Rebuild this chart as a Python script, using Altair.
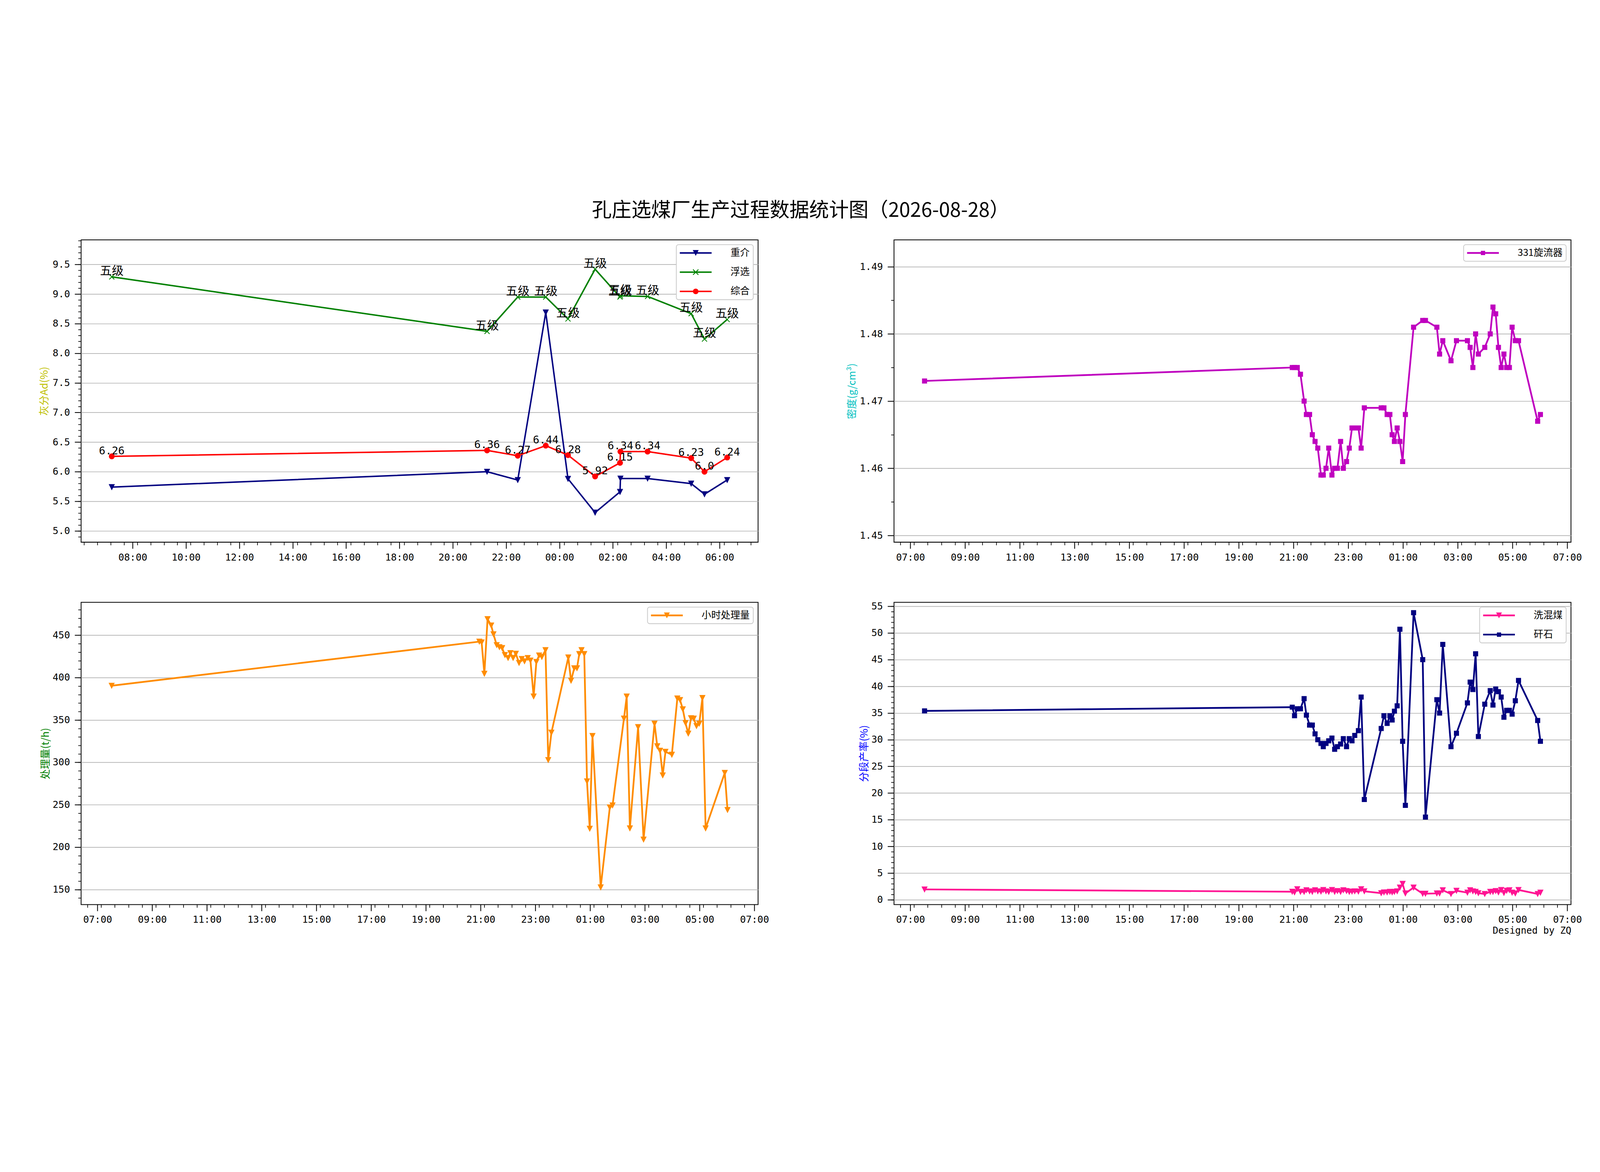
import altair as alt
import pandas as pd
import math
from datetime import datetime, timedelta

CJK = "Noto Sans CJK SC"
MONO = "DejaVu Sans Mono"

# ------------------------------------------------------------------ data
ash_times = ["07:13", "21:17", "22:26", "23:29", "00:19", "01:20",
             "02:16", "02:17", "03:18", "04:56", "05:26", "06:17"]
ash_zhongjie = [5.74, 6.00, 5.86, 8.69, 5.88, 5.31, 5.66, 5.885, 5.885, 5.80, 5.62, 5.86]
ash_fuxuan = [9.29, 8.37, 8.95, 8.95, 8.58, 9.42, 8.95, 8.97, 8.96, 8.67, 8.24, 8.57]
ash_zonghe = [6.26, 6.36, 6.27, 6.44, 6.28, 5.92, 6.15, 6.34, 6.34, 6.23, 6.0, 6.24]
fuxuan_grade = ["五级", "五级", "五级", "五级", "五级", "五级",
                "五级", "五级", "五级", "五级", "五级", "五级"]
zonghe_text = ["6.26", "6.36", "6.27", "6.44", "6.28", "5.92",
               "6.15", "6.34", "6.34", "6.23", "6.0", "6.24"]

shift_times = [
    "07:31", "20:57", "21:02", "21:08", "21:15", "21:23", "21:28", "21:35", "21:41", "21:47",
    "21:53", "22:00", "22:05", "22:11", "22:17", "22:24", "22:30", "22:36", "22:43", "22:49",
    "22:56", "23:02", "23:08", "23:14", "23:22", "23:28", "23:35", "00:12", "00:18", "00:25",
    "00:31", "00:36", "00:41", "00:47", "00:53", "00:59", "01:05", "01:23", "01:43", "01:49",
    "02:14", "02:20", "02:27", "02:45", "02:57", "03:21", "03:27", "03:33", "03:39", "03:45",
    "03:59", "04:11", "04:17", "04:23", "04:29", "04:35", "04:41", "04:47", "04:53", "04:59",
    "05:06", "05:13", "05:55", "06:01"]

density_331 = [
    1.473, 1.475, 1.475, 1.475, 1.474, 1.470, 1.468, 1.468, 1.465, 1.464,
    1.463, 1.459, 1.459, 1.460, 1.463, 1.459, 1.460, 1.460, 1.464, 1.460,
    1.461, 1.463, 1.466, 1.466, 1.466, 1.463, 1.469, 1.469, 1.469, 1.468,
    1.468, 1.465, 1.464, 1.466, 1.464, 1.461, 1.468, 1.481, 1.482, 1.482,
    1.481, 1.477, 1.479, 1.476, 1.479, 1.479, 1.478, 1.475, 1.480, 1.477,
    1.478, 1.480, 1.484, 1.483, 1.478, 1.475, 1.477, 1.475, 1.475, 1.481,
    1.479, 1.479, 1.467, 1.468]

hourly_throughput = [
    390.5, 442.5, 441.6, 404.6, 469.1, 461.6, 451.2, 438.4, 436.0, 434.9,
    426.7, 423.2, 429.0, 423.2, 428.3, 417.4, 422.0, 419.3, 423.2, 420.2,
    377.8, 418.6, 426.2, 424.4, 432.5, 302.8, 335.2, 423.9, 396.4, 411.1,
    411.1, 427.9, 432.5, 427.9, 277.7, 221.8, 331.2, 152.6, 246.9, 249.3,
    351.7, 377.8, 222.2, 341.7, 209.0, 345.7, 319.1, 313.8, 284.7, 312.6,
    309.1, 375.5, 373.6, 362.7, 346.4, 334.0, 352.2, 351.7, 342.9, 345.7,
    376.0, 222.2, 287.7, 243.9]

xihunmei = [
    1.95, 1.52, 1.4, 2.0, 1.5, 1.5, 1.8, 1.6, 1.5, 1.8,
    1.6, 1.55, 1.85, 1.6, 1.5, 1.85, 1.5, 1.65, 1.5, 1.8,
    1.65, 1.5, 1.55, 1.6, 1.55, 2.0, 1.6, 1.25, 1.4, 1.4,
    1.5, 1.4, 1.5, 1.6, 2.3, 3.0, 1.2, 2.3, 1.15, 1.15,
    1.2, 1.2, 1.8, 1.1, 1.7, 1.35, 1.8, 1.6, 1.5, 1.25,
    1.1, 1.5, 1.5, 1.65, 1.4, 1.85, 1.3, 1.7, 1.8, 1.35,
    1.2, 1.85, 1.1, 1.35]

ganshi = [
    35.4, 36.1, 34.5, 35.8, 35.8, 37.7, 34.6, 32.75, 32.75, 31.1,
    30.0, 29.3, 28.7, 29.3, 29.8, 30.3, 28.2, 28.7, 29.2, 30.2,
    28.7, 30.2, 29.8, 30.8, 31.7, 38.0, 18.8, 32.1, 34.5, 33.05,
    34.5, 33.7, 35.35, 36.35, 50.7, 29.7, 17.7, 53.8, 45.0, 15.5,
    37.5, 35.0, 47.85, 28.7, 31.2, 36.9, 40.8, 39.4, 46.1, 30.6,
    36.65, 39.2, 36.5, 39.5, 39.0, 38.0, 34.2, 35.5, 35.5, 34.8,
    37.3, 41.1, 33.6, 29.7]

TITLE = "孔庄选煤厂生产过程数据统计图（2026-08-28）"


# ------------------------------------------------------------------ helpers
def stamp(hm):
    h, m = (int(p) for p in hm.split(":"))
    day = 27 if h >= 7 else 28
    return f"2026-08-{day:02d}T{h:02d}:{m:02d}:00"


def frame(times, values, name, labels=None):
    d = pd.DataFrame({"t": [stamp(s) for s in times], "v": values})
    d["series"] = name
    if labels is not None:
        d["label"] = labels
    return d


def dt(d):
    return alt.DateTime(year=d.year, month=d.month, date=d.day,
                        hours=d.hour, minutes=d.minute, seconds=d.second)


def tick_list(start, stop, minutes):
    out, cur = [], start
    while cur <= stop:
        out.append(dt(cur))
        cur += timedelta(minutes=minutes)
    return out


def frange(start, stop, step, nd):
    out, k = [], 0
    while True:
        v = round(start + k * step, nd)
        if v > stop + 1e-9:
            break
        out.append(v)
        k += 1
    return out


TRI = "M-1,-1L1,-1L0,1Z"
XMK = "M-1,-1L1,1M-1,1L1,-1"

LU = 18.0
LHALF = 59.5 / LU


def f4(v):
    return f"{v:.4f}"


def leg_line(half_px):
    t = half_px / LU
    return (f"M{f4(-LHALF)},{f4(-t)}L{f4(LHALF)},{f4(-t)}"
            f"L{f4(LHALF)},{f4(t)}L{f4(-LHALF)},{f4(t)}Z")


def leg_tri(px):
    a = px / LU
    return f"M{f4(-a)},{f4(-a)}L{f4(a)},{f4(-a)}L0,{f4(a)}Z"


def leg_sq(px):
    a = px / LU
    return f"M{f4(-a)},{f4(-a)}L{f4(a)},{f4(-a)}L{f4(a)},{f4(a)}L{f4(-a)},{f4(a)}Z"


def leg_circ(px, n=24):
    r = px / LU
    pts = [(r * math.cos(2 * math.pi * k / n), r * math.sin(2 * math.pi * k / n)) for k in range(n)]
    return "M" + "L".join(f"{f4(x)},{f4(y)}" for x, y in pts) + "Z"


def leg_x(px, half_w):
    a = px / LU
    e = half_w / LU / math.sqrt(2)
    r1 = f"M{f4(-a+e)},{f4(-a-e)}L{f4(a+e)},{f4(a-e)}L{f4(a-e)},{f4(a+e)}L{f4(-a-e)},{f4(-a+e)}Z"
    r2 = f"M{f4(-a-e)},{f4(a-e)}L{f4(a-e)},{f4(-a-e)}L{f4(a+e)},{f4(-a+e)}L{f4(-a+e)},{f4(a+e)}Z"
    return r1 + r2


TICK_FS = 36
X_MAJOR = dict(format="%H:%M", orient="bottom", labelFont=MONO, labelFontSize=TICK_FS,
               labelColor="black", labelPadding=16, labelFlush=False, labelOverlap=False,
               tickSize=24, tickWidth=3, tickColor="black", domain=False, grid=False)
X_MINOR = dict(orient="bottom", labels=False, tickSize=11, tickWidth=2.5,
               tickColor="black", domain=False, grid=False, title=None)
Y_MAJOR = dict(orient="left", labelFont=MONO, labelFontSize=TICK_FS, labelColor="black",
               labelPadding=18, labelOverlap=False, tickSize=24, tickWidth=3,
               tickColor="black", domain=False, grid=True, gridColor="#b0b0b0",
               gridWidth=2.5, titleFont=CJK, titleFontSize=38, titleFontWeight="normal",
               titleBaseline="middle")
Y_MINOR = dict(orient="left", labels=False, tickSize=11, tickWidth=2.5,
               tickColor="black", domain=False, grid=False, title=None)


def xy(xs, ys, xaxis=None, yaxis=None):
    return dict(x=alt.X("t:T", scale=xs, axis=xaxis), y=alt.Y("v:Q", scale=ys, axis=yaxis))


def series(df, color, shape, size, lw, xs, ys, filled=True, xaxis=None, yaxis=None):
    line = alt.Chart(df).mark_line(color=color, strokeWidth=lw, strokeJoin="round").encode(
        **xy(xs, ys, xaxis, yaxis))
    if filled:
        pts = alt.Chart(df).mark_point(shape=shape, size=size, filled=True, fill=color,
                                       stroke=color, strokeWidth=2, opacity=1)
    else:
        pts = alt.Chart(df).mark_point(shape=shape, size=size, filled=False,
                                       stroke=color, strokeWidth=3, opacity=1)
    return [line, pts.encode(**xy(xs, ys))]


def legend_layer(dfs, names, colors, paths, xs, ys):
    data = pd.concat(dfs, ignore_index=True)
    leg = alt.Legend(title=None, orient="top-right", offset=18, padding=13,
                     fillColor="white", strokeColor="#cccccc",
                     cornerRadius=8, labelFont=CJK, labelFontSize=36, labelColor="black",
                     labelOffset=112, labelLimit=0, symbolSize=1296, symbolOffset=41.5,
                     symbolStrokeWidth=0, symbolFillColor="black",
                     symbolStrokeColor="transparent", symbolOpacity=1, rowPadding=36)
    return alt.Chart(data).mark_point(filled=True, opacity=0, strokeWidth=0).encode(
        **xy(xs, ys),
        color=alt.Color("series:N", scale=alt.Scale(domain=names, range=colors), legend=leg),
        shape=alt.Shape("series:N", scale=alt.Scale(domain=names, range=paths), legend=leg),
    )


def axis_carrier(df, xs, ys, xminor, yminor):
    return alt.Chart(df).mark_point(opacity=0).encode(
        x=alt.X("t:T", scale=xs, axis=alt.Axis(values=xminor, **X_MINOR)),
        y=alt.Y("v:Q", scale=ys, axis=alt.Axis(values=yminor, **Y_MINOR)),
    )


W, H = 2535, 1132

xs_tl = alt.Scale(domain=[dt(datetime(2026, 8, 27, 6, 4)), dt(datetime(2026, 8, 28, 7, 26, 30))], nice=False)
xmaj_tl = tick_list(datetime(2026, 8, 27, 8, 0), datetime(2026, 8, 28, 6, 0), 120)
xmin_tl = tick_list(datetime(2026, 8, 27, 6, 10, 30), datetime(2026, 8, 28, 7, 26), 30)

xs_o = alt.Scale(domain=[dt(datetime(2026, 8, 27, 6, 24)), dt(datetime(2026, 8, 28, 7, 8))], nice=False)
xmaj_o = tick_list(datetime(2026, 8, 27, 7, 0), datetime(2026, 8, 28, 7, 0), 120)
xmin_o = tick_list(datetime(2026, 8, 27, 6, 38), datetime(2026, 8, 28, 7, 7), 30)

# ------------------------------------------------------------------ top-left
ys_tl = alt.Scale(domain=[4.81, 9.915], zero=False, nice=False)
df_zj = frame(ash_times, ash_zhongjie, "重介")
df_fx = frame(ash_times, ash_fuxuan, "浮选", fuxuan_grade)
df_zh = frame(ash_times, ash_zonghe, "综合", zonghe_text)

tl_layers = [axis_carrier(df_zj, xs_tl, ys_tl, xmin_tl, frange(4.9, 9.9, 0.1, 1))]
tl_layers += series(df_zj, "#000080", TRI, 400, 5.5, xs_tl, ys_tl,
                    xaxis=alt.Axis(values=xmaj_tl, title=None, **X_MAJOR),
                    yaxis=alt.Axis(values=frange(5.0, 9.5, 0.5, 1), format=".1f",
                                   title="灰分Ad(%)", titleColor="#bfbf00", titleX=-137, **Y_MAJOR))
tl_layers += series(df_fx, "#008000", XMK, 361, 5.5, xs_tl, ys_tl, filled=False)
tl_layers += series(df_zh, "#ff0000", "circle", 400, 5.5, xs_tl, ys_tl)
tl_layers.append(alt.Chart(df_fx).mark_text(font=CJK, fontSize=44, baseline="alphabetic",
                                             align="center", dy=-8, color="black").encode(
    **xy(xs_tl, ys_tl), text="label:N"))
tl_layers.append(alt.Chart(df_zh).mark_text(font=MONO, fontSize=40, baseline="alphabetic",
                                             align="center", dy=-8, color="black").encode(
    **xy(xs_tl, ys_tl), text="label:N"))
tl_layers.append(legend_layer([df_zj, df_fx, df_zh], ["重介", "浮选", "综合"],
                              ["#000080", "#008000", "#ff0000"],
                              [leg_line(2.8) + leg_tri(11), leg_line(2.8) + leg_x(10, 1.6),
                               leg_line(2.8) + leg_circ(10.5)], xs_tl, ys_tl))
top_left = alt.layer(*tl_layers).resolve_axis(x="independent", y="independent").properties(
    width=W, height=H,
    title=alt.TitleParams(text=TITLE, font=CJK, fontSize=74, fontWeight="normal", color="black",
                          anchor="middle", frame="group", dx=1427, offset=13,
                          baseline="alphabetic"),
)

# ------------------------------------------------------------------ top-right
ys_tr = alt.Scale(domain=[1.449, 1.494], zero=False, nice=False)
df_den = frame(shift_times, density_331, "331旋流器")
tr_layers = [axis_carrier(df_den, xs_o, ys_tr, xmin_o, [1.455, 1.465, 1.475, 1.485])]
tr_layers += series(df_den, "#bf00bf", "square", 289, 6.5, xs_o, ys_tr,
                    xaxis=alt.Axis(values=xmaj_o, title=None, **X_MAJOR),
                    yaxis=alt.Axis(values=[1.45, 1.46, 1.47, 1.48, 1.49], format=".2f",
                                   title="密度(g/cm³)", titleColor="#00bfbf", titleX=-156, **Y_MAJOR))
tr_layers.append(legend_layer([df_den], ["331旋流器"], ["#bf00bf"],
                              [leg_line(3.2) + leg_sq(8)], xs_o, ys_tr))
top_right = alt.layer(*tr_layers).resolve_axis(x="independent", y="independent").properties(width=W, height=H)

# ------------------------------------------------------------------ bottom-left
ys_bl = alt.Scale(domain=[132.2, 488.9], zero=False, nice=False)
df_thr = frame(shift_times, hourly_throughput, "小时处理量")
bl_layers = [axis_carrier(df_thr, xs_o, ys_bl, xmin_o, frange(140, 480, 10, 0))]
bl_layers += series(df_thr, "#ff8c00", TRI, 400, 6.5, xs_o, ys_bl,
                    xaxis=alt.Axis(values=xmaj_o, title=None, **X_MAJOR),
                    yaxis=alt.Axis(values=frange(150, 450, 50, 0), format="d",
                                   title="处理量(t/h)", titleColor="#008000", titleX=-132, **Y_MAJOR))
bl_layers.append(legend_layer([df_thr], ["小时处理量"], ["#ff8c00"],
                              [leg_line(3.2) + leg_tri(11)], xs_o, ys_bl))
bottom_left = alt.layer(*bl_layers).resolve_axis(x="independent", y="independent").properties(width=W, height=H)

# ------------------------------------------------------------------ bottom-right
ys_br = alt.Scale(domain=[-0.9, 55.75], zero=False, nice=False)
df_xhm = frame(shift_times, xihunmei, "洗混煤")
df_gs = frame(shift_times, ganshi, "矸石")
br_layers = [axis_carrier(df_gs, xs_o, ys_br, xmin_o, frange(0, 55, 1, 0))]
br_layers += series(df_xhm, "#ff1493", TRI, 400, 6.5, xs_o, ys_br,
                    xaxis=alt.Axis(values=xmaj_o, title="Designed by ZQ", titleFont=MONO,
                                   titleFontSize=35, titleFontWeight="normal", titleColor="black",
                                   titleX=2536, titleY=97, titleAlign="right", titleBaseline="middle",
                                   **X_MAJOR),
                    yaxis=alt.Axis(values=frange(0, 55, 5, 0), format="d",
                                   title="分段产率(%)", titleColor="#0000ff", titleX=-111, **Y_MAJOR))
br_layers += series(df_gs, "#000080", "square", 289, 6.5, xs_o, ys_br)
br_layers.append(legend_layer([df_xhm, df_gs], ["洗混煤", "矸石"], ["#ff1493", "#000080"],
                              [leg_line(3.2) + leg_tri(11), leg_line(3.2) + leg_sq(8)],
                              xs_o, ys_br))
bottom_right = alt.layer(*br_layers).resolve_axis(x="independent", y="independent").properties(width=W, height=H)

# ------------------------------------------------------------------ assemble
# autosize "none": the view size is only the padding, so the plot origin sits at a fixed
# place (page x=300, y=210) and the page is exactly the wanted size.
chart = alt.concat(
    top_left, top_right, bottom_left, bottom_right,
    columns=2, spacing={"row": 225, "column": 509}, bounds="flush",
).resolve_scale(
    x="independent", y="independent", color="independent", shape="independent"
).properties(
    autosize=alt.AutoSizeParams(type="none"),
    padding={"left": 292, "top": 202, "right": 5676, "bottom": 2756},
    background="white",
).configure_view(stroke="black", strokeWidth=3, fill="white").configure_legend(strokeWidth=3)

chart.save("out.html", embed_options={"renderer": "svg", "actions": False})
